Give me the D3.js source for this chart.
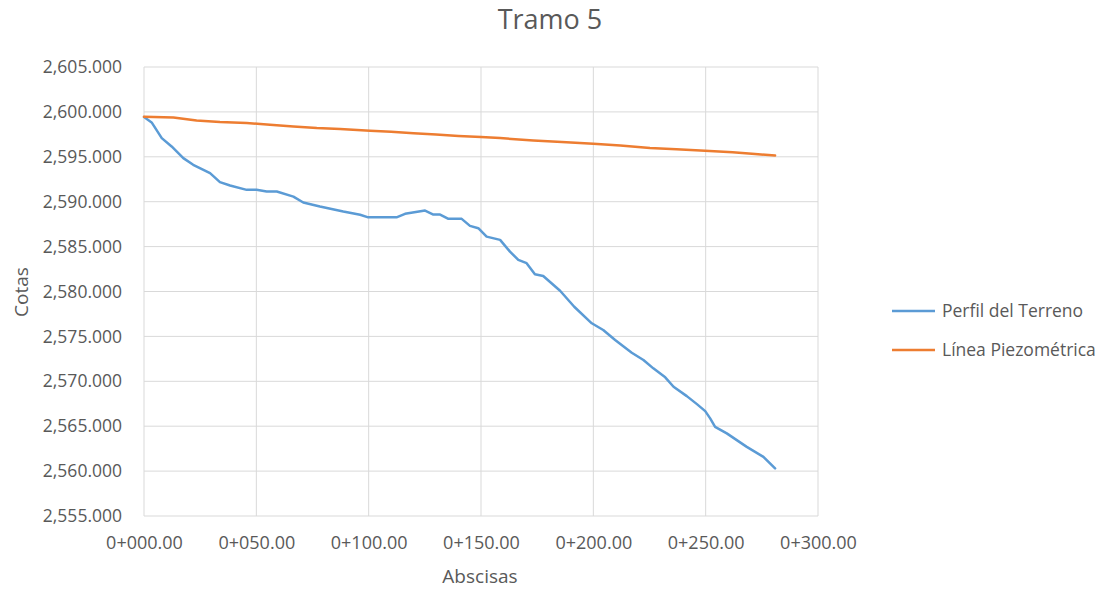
<!DOCTYPE html>
<html>
<head>
<meta charset="utf-8">
<script src="https://cdn.jsdelivr.net/npm/d3@7"></script>
<style>
  html, body { margin: 0; padding: 0; background: #fff; }
  svg text { font-family: "Open Sans", "Noto Sans", sans-serif; fill: #595959; }
</style>
</head>
<body>
<svg id="chart" width="1110" height="590"></svg>
<script>
// Tramo 5 – ground profile and hydraulic grade line
const titleText = "Tramo 5";
const xAxisTitle = "Abscisas";
const yAxisTitle = "Cotas";
const seriesNames = ["Perfil del Terreno", "Línea Piezométrica"];
const seriesColors = ["#5B9BD5", "#ED7D31"];

const xTicks = [0, 50, 100, 150, 200, 250, 300];
const yTicks = [2555, 2560, 2565, 2570, 2575, 2580, 2585, 2590, 2595, 2600, 2605];

// Perfil del Terreno: station (m) and elevation (m)
const terrenoX = [0, 3.4, 7.9, 12.3, 17.5, 21.9, 29.4, 33.8, 38.3, 45.7, 50.1, 54.6, 59.1, 66.5, 70.9, 78.3, 88.7, 96.2, 99.8, 112.4, 116.2, 125.1, 128.8, 131.8, 135.5, 141.4, 145.1, 148.8, 152.5, 158.5, 162.9, 166.6, 170.3, 174.0, 177.7, 185.2, 191.5, 199.3, 204.4, 209.7, 217.1, 222.3, 226.7, 232.0, 235.7, 241.6, 246.1, 249.8, 252.0, 254.2, 259.4, 268.3, 275.7, 280.9];
const terrenoY = [2599.43, 2598.83, 2597.08, 2596.15, 2594.85, 2594.11, 2593.18, 2592.18, 2591.80, 2591.32, 2591.32, 2591.13, 2591.13, 2590.57, 2589.91, 2589.46, 2588.90, 2588.55, 2588.26, 2588.26, 2588.65, 2589.01, 2588.57, 2588.57, 2588.09, 2588.09, 2587.31, 2587.05, 2586.11, 2585.75, 2584.44, 2583.52, 2583.15, 2581.92, 2581.73, 2580.08, 2578.30, 2576.46, 2575.71, 2574.60, 2573.18, 2572.37, 2571.44, 2570.44, 2569.39, 2568.35, 2567.46, 2566.68, 2565.87, 2564.93, 2564.20, 2562.70, 2561.59, 2560.30];

// Línea Piezométrica: station (m) and hydraulic head (m)
const piezoX = [0, 13.1, 23.4, 33.8, 45.7, 56.1, 66.5, 76.9, 87.3, 100.6, 110, 120, 130, 140, 150, 158.5, 173.3, 186, 200, 212, 225.2, 237, 249.7, 262, 272, 280.9];
const piezoY = [2599.45, 2599.38, 2599.05, 2598.87, 2598.76, 2598.57, 2598.38, 2598.20, 2598.09, 2597.90, 2597.78, 2597.62, 2597.47, 2597.33, 2597.20, 2597.08, 2596.82, 2596.65, 2596.45, 2596.25, 2595.97, 2595.85, 2595.67, 2595.50, 2595.30, 2595.15];

const svg = d3.select("#chart");
const plot = { left: 144, right: 818, top: 67, bottom: 516 };

const x = d3.scaleLinear().domain([0, 300]).range([plot.left, plot.right]);
const y = d3.scaleLinear().domain([2555, 2605]).range([plot.bottom, plot.top]);

const fmtY = d3.format(",.3f");
const fmtX = v => "0+" + String(Math.floor(v)).padStart(3, "0") + "." + (v % 1).toFixed(2).slice(2);

// Gridlines
const grid = svg.append("g");
grid.selectAll(".hg").data(yTicks).join("line")
  .attr("x1", plot.left).attr("x2", plot.right)
  .attr("y1", d => y(d)).attr("y2", d => y(d))
  .attr("stroke", "#d9d9d9").attr("stroke-width", 1);
grid.selectAll(".vg").data(xTicks).join("line")
  .attr("y1", plot.top).attr("y2", plot.bottom)
  .attr("x1", d => x(d)).attr("x2", d => x(d))
  .attr("stroke", "#d9d9d9").attr("stroke-width", 1);

// Axes (labels only)
const yAxis = svg.append("g").attr("transform", `translate(${plot.left},0)`)
  .call(d3.axisLeft(y).tickValues(yTicks).tickFormat(fmtY).tickSize(0).tickPadding(22));
yAxis.select(".domain").remove();
yAxis.selectAll("text").style("font-size", "17.5px").attr("fill", "#595959");

const xAxis = svg.append("g").attr("transform", `translate(0,${plot.bottom})`)
  .call(d3.axisBottom(x).tickValues(xTicks).tickFormat(fmtX).tickSize(0).tickPadding(20));
xAxis.select(".domain").remove();
xAxis.selectAll("text").style("font-size", "18px").attr("fill", "#595959");

// Series lines
const line = d3.line().x(d => x(d[0])).y(d => y(d[1]));
const series = [
  d3.zip(terrenoX, terrenoY),
  d3.zip(piezoX, piezoY)
];
svg.append("g").selectAll("path").data(series).join("path")
  .attr("d", line)
  .attr("fill", "none")
  .attr("stroke", (d, i) => seriesColors[i])
  .attr("stroke-width", 2.5)
  .attr("stroke-linejoin", "round")
  .attr("stroke-linecap", "round");

// Titles
svg.append("text").attr("x", 550).attr("y", 29).attr("text-anchor", "middle")
  .style("font-size", "27px").text(titleText);
svg.append("text").attr("x", 480).attr("y", 583).attr("text-anchor", "middle")
  .style("font-size", "19px").text(xAxisTitle);
svg.append("text").attr("transform", "translate(28,292) rotate(-90)").attr("text-anchor", "middle")
  .style("font-size", "19px").text(yAxisTitle);

// Legend
const legend = svg.append("g").selectAll("g").data(seriesNames).join("g")
  .attr("transform", (d, i) => `translate(892,${311 + i * 39})`);
legend.append("line").attr("x1", 0).attr("x2", 43).attr("y1", 0).attr("y2", 0)
  .attr("stroke", (d, i) => seriesColors[i]).attr("stroke-width", 2.5);
legend.append("text").attr("x", 50).attr("y", 6).style("font-size", "17.5px").text(d => d);
</script>
</body>
</html>
